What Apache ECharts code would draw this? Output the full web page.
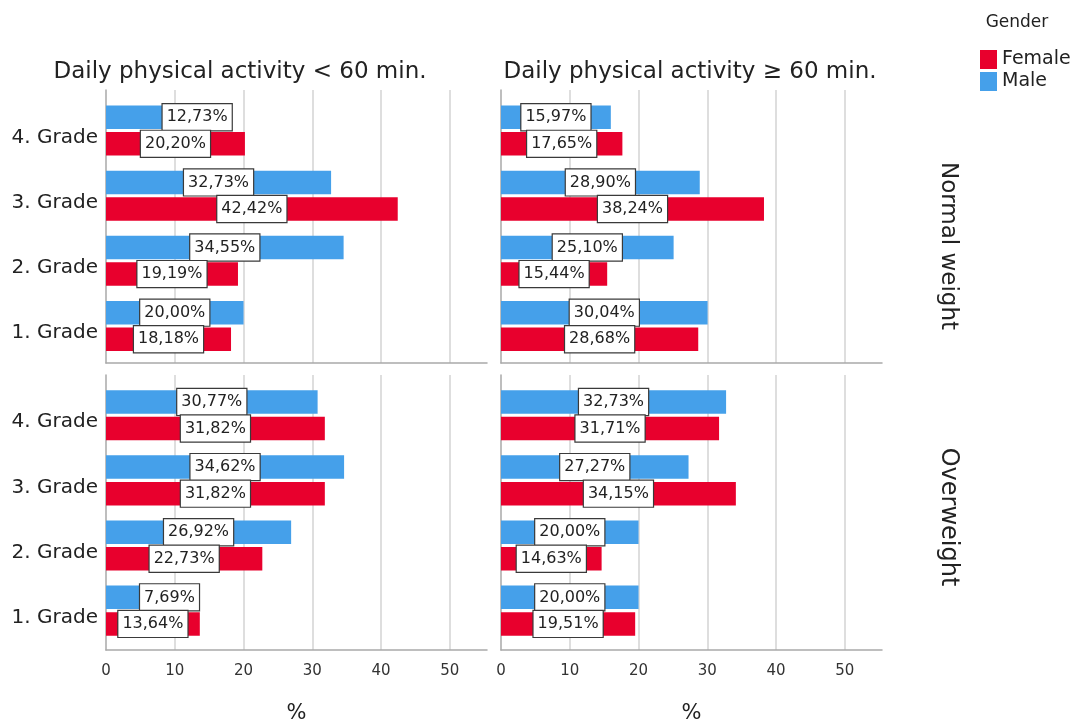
<!DOCTYPE html>
<html><head><meta charset="utf-8">
<script src="https://cdn.jsdelivr.net/npm/echarts@6/dist/echarts.min.js"></script>
<style>html,body{margin:0;padding:0;background:#fff}#c{width:1073px;height:725px}</style>
</head><body><div id="c"></div>
<script>
// ---------- data ----------
const grades = ['1. Grade', '2. Grade', '3. Grade', '4. Grade'];
const activityGroups = ['Daily physical activity < 60 min.', 'Daily physical activity \u2265 60 min.'];
const weightGroups = ['Normal weight', 'Overweight'];
const genders = ['Female', 'Male'];
const xTicks = [0, 10, 20, 30, 40, 50];
const axisTitle = '%';
const legendTitle = 'Gender';
// values in grade order 1..4
const normalLowMale    = [20.00, 34.55, 32.73, 12.73];
const normalLowFemale  = [18.18, 19.19, 42.42, 20.20];
const normalHighMale   = [30.04, 25.10, 28.90, 15.97];
const normalHighFemale = [28.68, 15.44, 38.24, 17.65];
const overLowMale      = [7.69, 26.92, 34.62, 30.77];
const overLowFemale    = [13.64, 22.73, 31.82, 31.82];
const overHighMale     = [20.00, 20.00, 27.27, 32.73];
const overHighFemale   = [19.51, 14.63, 34.15, 31.71];

// ---------- layout / style ----------
const FONT = 'DejaVu Sans';
const BLUE = '#45a0ea', RED = '#e8002d';
const XMAX = 55.4;
const cols = [{ left: 106, width: 381 }, { left: 501, width: 381 }];
const rows = [
  { frameTop: 90, frameH: 273, barTop: 98, barH: 260.5 },
  { frameTop: 375, frameH: 275, barTop: 382.7, barH: 260.5 }
];
const panels = [
  { r: 0, c: 0, male: normalLowMale, female: normalLowFemale },
  { r: 0, c: 1, male: normalHighMale, female: normalHighFemale },
  { r: 1, c: 0, male: overLowMale, female: overLowFemale },
  { r: 1, c: 1, male: overHighMale, female: overHighFemale }
];

const fmt = v => v.toFixed(2).replace('.', ',') + '%';
const labelStyle = {
  show: true, position: 'inside', formatter: p => fmt(p.value),
  backgroundColor: '#fff', borderColor: '#3a3a3a', borderWidth: 1.2,
  padding: [4, 4, 3, 4], fontSize: 16, lineHeight: 19, color: '#222', fontFamily: FONT
};

const grid = [], xAxis = [], yAxis = [], series = [];
panels.forEach((p, i) => {
  const col = cols[p.c], row = rows[p.r];
  // frame grid (axis lines + grid lines)
  grid.push({ left: col.left, width: col.width, top: row.frameTop, height: row.frameH });
  xAxis.push({
    gridIndex: 2 * i, type: 'value', min: 0, max: XMAX, interval: 10,
    axisLine: { show: true, lineStyle: { color: '#a9a9a9', width: 1.5 } },
    axisTick: { show: false },
    splitLine: { show: true, showMinLine: false, showMaxLine: false, lineStyle: { color: '#d3d3d3', width: 1.5 } },
    axisLabel: {
      show: p.r === 1, showMaxLabel: false, margin: 14, fontSize: 15, color: '#333', fontFamily: FONT,
      formatter: v => (xTicks.indexOf(v) >= 0 ? String(v) : '')
    }
  });
  yAxis.push({
    gridIndex: 2 * i, type: 'value', min: 0, max: 1,
    axisLine: { show: true, lineStyle: { color: '#a9a9a9', width: 1.5 } },
    axisTick: { show: false }, axisLabel: { show: false }, splitLine: { show: false }
  });
  // bar grid
  grid.push({ left: col.left, width: col.width, top: row.barTop, height: row.barH });
  xAxis.push({ gridIndex: 2 * i + 1, type: 'value', min: 0, max: XMAX, show: false });
  yAxis.push({
    gridIndex: 2 * i + 1, type: 'category', data: grades,
    axisLine: { show: false }, axisTick: { show: false }, splitLine: { show: false },
    axisLabel: {
      show: p.c === 0, margin: 8,
      formatter: v => '{g|' + v + '}',
      rich: { g: { fontSize: 20, color: '#222', fontFamily: FONT, padding: [14, 0, 0, 0] } }
    }
  });
  const femaleVals = p.female, maleVals = p.male;
  series.push({
    name: 'Male', type: 'bar', xAxisIndex: 2 * i + 1, yAxisIndex: 2 * i + 1,
    data: maleVals, barWidth: 23.5, barGap: '13%', itemStyle: { color: BLUE },
    label: labelStyle, z: 3,
    labelLayout: function (prm) {
      const r = prm.rect, lr = prm.labelRect;
      if (lr.x < r.x + 15) {
        const f = femaleVals[prm.dataIndex], m = maleVals[prm.dataIndex];
        const fCenter = r.x + r.width * f / m / 2;
        return { dx: (fCenter - 14) - lr.x };
      }
      return {};
    }
  });
  series.push({
    name: 'Female', type: 'bar', xAxisIndex: 2 * i + 1, yAxisIndex: 2 * i + 1,
    data: femaleVals, barWidth: 23.5, barGap: '13%', itemStyle: { color: RED },
    label: labelStyle, z: 4
  });
});

const txt = (x, y, text, size, extra) => Object.assign({
  type: 'text', x: x, y: y, silent: true,
  style: { text: text, fontSize: size, fontFamily: FONT, fill: '#222', align: 'center', verticalAlign: 'middle' }
}, extra || {});

const graphic = [
  txt(240, 72, activityGroups[0], 23),
  txt(690, 72, activityGroups[1], 23),
  txt(948, 246, weightGroups[0], 23, { rotation: -Math.PI / 2 }),
  txt(948, 517, weightGroups[1], 24, { rotation: -Math.PI / 2 }),
  txt(296.5, 714, axisTitle, 21),
  txt(691.5, 714, axisTitle, 21),
  txt(1017, 23, legendTitle, 17)
];

const chart = echarts.init(document.getElementById('c'), null, { renderer: 'canvas' });
chart.setOption({
  backgroundColor: '#fff',
  animation: false,
  color: [BLUE, RED],
  legend: {
    data: genders, orient: 'vertical', left: 975, top: 45, icon: 'rect',
    itemWidth: 17, itemHeight: 19, itemGap: 3,
    textStyle: { fontSize: 19, color: '#222', fontFamily: FONT }
  },
  grid, xAxis, yAxis, series, graphic
});
</script></body></html>
